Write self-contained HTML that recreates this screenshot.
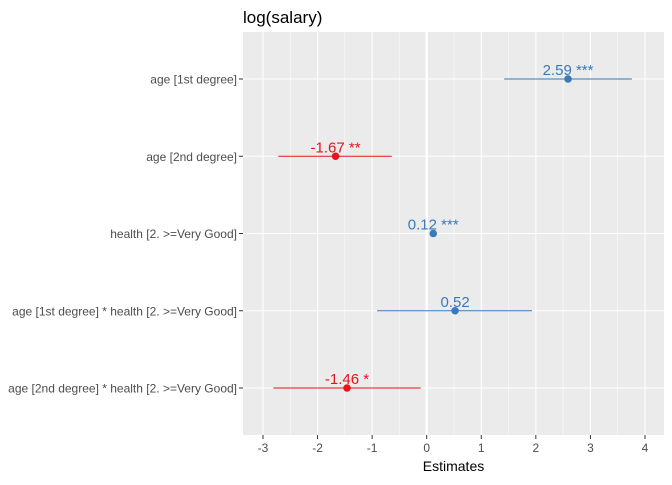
<!DOCTYPE html>
<html><head><meta charset="utf-8"><style>
body{margin:0;background:#fff;font-family:"Liberation Sans",Arial,sans-serif}
</style></head><body>
<svg id="chart" width="672" height="480" xmlns="http://www.w3.org/2000/svg" font-family="Liberation Sans, Arial, sans-serif">
<text x="243" y="23" font-size="17" fill="#000">log(salary)</text>
<rect x="243" y="32" width="421" height="403" fill="#ebebeb"/>
<g id="grid"></g><g id="marks"></g><g id="axes"></g>
<text x="453.5" y="471" font-size="14" text-anchor="middle" fill="#000">Estimates</text>
</svg>
<script>
const terms=["age [1st degree]","age [2nd degree]","health [2. >=Very Good]","age [1st degree] * health [2. >=Very Good]","age [2nd degree] * health [2. >=Very Good]"];
const estimates=[2.59,-1.67,0.12,0.52,-1.46];
const ciLow=[1.42,-2.72,0.08,-0.91,-2.81];
const ciHigh=[3.76,-0.64,0.16,1.93,-0.11];
const stars=["***","**","***","","*"];
const xTicks=[-3,-2,-1,0,1,2,3,4];
const NS="http://www.w3.org/2000/svg";
const x=v=>426.7+v*54.57;
const y=i=>79+i*77.25;
function mk(tag,attrs,parent){const e=document.createElementNS(NS,tag);for(const k in attrs)e.setAttribute(k,attrs[k]);document.getElementById(parent).appendChild(e);return e;}
for(let t=-3.5;t<=4.5;t+=0.5){const px=x(t);if(px<243||px>664)continue;const major=Number.isInteger(t);
const l=mk("line",{x1:px,x2:px,y1:32,y2:435,stroke:"#fff","stroke-width":t===0?2.5:(major?1.1:0.5)},"grid");

}
terms.forEach((t,i)=>{const l=mk("line",{x1:243,x2:664,y1:y(i),y2:y(i),stroke:"#fff","stroke-width":1.1},"grid");


const tk=mk("line",{x1:239,x2:243,y1:y(i),y2:y(i),stroke:"#333","stroke-width":1},"axes");


const lb=mk("text",{x:237,y:y(i)+4.5,"font-size":12,"text-anchor":"end",fill:"#4d4d4d"},"axes");lb.textContent=t;

});
xTicks.forEach(v=>{const tk=mk("line",{x1:x(v),x2:x(v),y1:435,y2:439,stroke:"#333"},"axes");


const lb=mk("text",{x:x(v),y:452,"font-size":12,"text-anchor":"middle",fill:"#4d4d4d"},"axes");lb.textContent=v;

});
estimates.forEach((v,i)=>{const c=v>=0?"#3a7ab8":"#e8141c";
const ci=mk("line",{x1:x(ciLow[i]),x2:x(ciHigh[i]),y1:y(i),y2:y(i),stroke:c,"stroke-width":1.1},"marks");


const p=mk("circle",{cx:x(v),cy:y(i),r:3.8,fill:c},"marks");


const lb=mk("text",{x:x(v),y:y(i)-4,"font-size":15,"text-anchor":"middle",fill:c},"marks");
lb.textContent=v.toFixed(2)+(stars[i]?" "+stars[i]:"");

});
</script>
</body></html>
